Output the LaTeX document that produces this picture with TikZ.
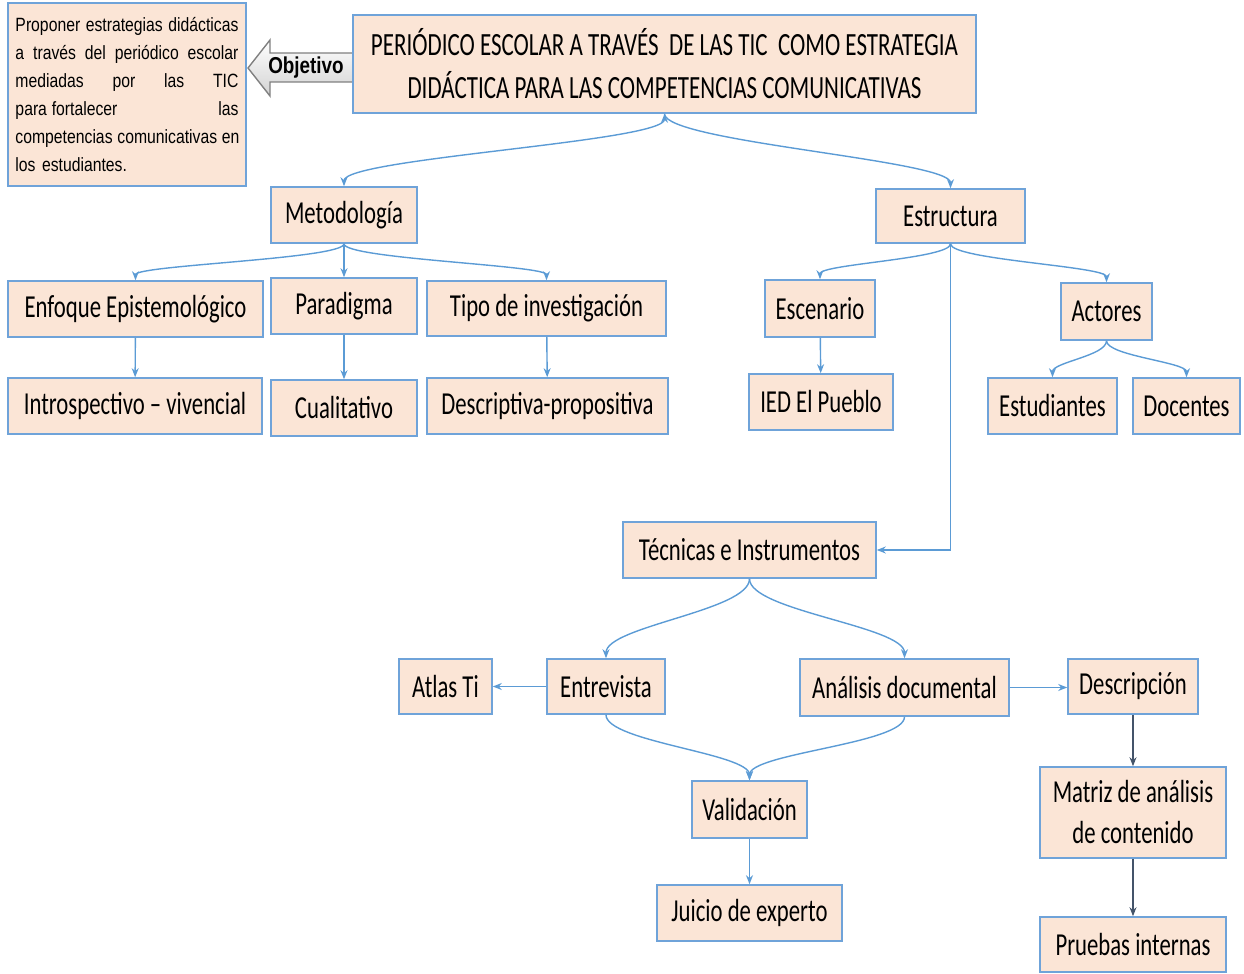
\documentclass[tikz,border=0pt]{standalone}
\usepackage{fontspec}
\usetikzlibrary{arrows.meta, calc}
\newfontfamily\boxfont{Carlito}[FakeStretch=0.71]
\newfontfamily\objfont{Liberation Sans}[FakeStretch=0.82]
\definecolor{peach}{HTML}{FBE5D6}
\definecolor{borde}{HTML}{6FA3D9}
\definecolor{linea}{HTML}{5B9BD5}
\definecolor{oscuro}{HTML}{44546A}
% una linea justificada del objetivo
\newcommand{\jline}[1]{\makebox[111.5pt][s]{\spaceskip=0.25em plus 1fil\relax #1}}

\begin{document}
\begin{tikzpicture}[x=0.5pt, y=-0.5pt,
    caja/.style={draw=borde, line width=0.8pt, fill=peach, inner sep=2pt,
        font=\boxfont\fontsize{16}{20.5}\selectfont, align=center},
    enlace/.style={draw=linea, line width=0.7pt, ->},
    oscura/.style={draw=oscuro, line width=0.7pt, ->},
    >={Stealth[length=4.5pt,width=3.5pt]}]
    \useasboundingbox (0,0) rectangle (1244,974);

    % Objetivo
    \node[caja, minimum width=119pt, minimum height=91.5pt, text width=111.5pt, align=left,
        font=\objfont\fontsize{9.6}{14}\selectfont] (obj) at (127,94.5)
        {\jline{Proponer estrategias didácticas}\\\jline{a través del periódico escolar}\\\jline{mediadas por las TIC}\\\jline{para\hspace{0.25em}fortalecer las}\\\jline{competencias comunicativas en}\\los estudiantes.};
    \draw[draw=black!50, line width=0.7pt, top color=white, bottom color=gray!35]
        (248,68) -- (270,40) -- (270,53) -- (354,53) -- (354,82) -- (270,82) -- (270,96) -- cycle;
    \node[font=\objfont\bfseries\fontsize{11.5}{13}\selectfont] (objlbl) at (306,68) {Objetivo};

    % Titulo
    \node[caja, minimum width=311.5pt, minimum height=49pt, font=\boxfont\fontsize{16.2}{21.5}\selectfont] (tit) at (664.5,64)
        {PERIÓDICO ESCOLAR A TRAVÉS\ \ DE LAS TIC\ \ COMO ESTRATEGIA\\DIDÁCTICA PARA LAS COMPETENCIAS COMUNICATIVAS};

    % Metodologia
    \node[caja, minimum width=73pt, minimum height=28pt] (met) at (344,215) {Metodología};
    \node[caja, minimum width=127.5pt, minimum height=28pt] (enf) at (135.5,309) {Enfoque Epistemológico};
    \node[caja, minimum width=73pt, minimum height=28pt] (par) at (344,306) {Paradigma};
    \node[caja, minimum width=119.5pt, minimum height=27.5pt] (tipo) at (546.5,308.5) {Tipo de investigación};
    \node[caja, minimum width=127pt, minimum height=28pt] (intro) at (135,406) {Introspectivo – vivencial};
    \node[caja, minimum width=73pt, minimum height=28pt] (cual) at (344,408) {Cualitativo};
    \node[caja, minimum width=120.5pt, minimum height=28pt] (descp) at (547.5,406) {Descriptiva-propositiva};

    % Estructura
    \node[caja, minimum width=74.5pt, minimum height=27pt] (est) at (950.5,216) {Estructura};
    \node[caja, minimum width=55pt, minimum height=28.5pt] (esc) at (820,308.5) {Escenario};
    \node[caja, minimum width=72pt, minimum height=28pt] (ied) at (821,402) {IED El Pueblo};
    \node[caja, minimum width=45.5pt, minimum height=28.5pt] (act) at (1106.5,311.5) {Actores};
    \node[caja, minimum width=64.5pt, minimum height=28pt] (estud) at (1052.5,406) {Estudiantes};
    \node[caja, minimum width=53.5pt, minimum height=28pt] (doc) at (1186.5,406) {Docentes};

    % Tecnicas
    \node[caja, minimum width=126.5pt, minimum height=28pt] (tec) at (749.5,550) {Técnicas e Instrumentos};
    \node[caja, minimum width=46.5pt, minimum height=27.5pt] (atlas) at (445.5,686.5) {Atlas Ti};
    \node[caja, minimum width=59pt, minimum height=27.5pt] (entr) at (606,686.5) {Entrevista};
    \node[caja, minimum width=104.5pt, minimum height=28.5pt] (anal) at (904.5,687.5) {Análisis documental};
    \node[caja, minimum width=65pt, minimum height=27.5pt] (descr) at (1133,686.5) {Descripción};
    \node[caja, minimum width=57.5pt, minimum height=28.5pt] (val) at (749.5,809.5) {Validación};
    \node[caja, minimum width=92.5pt, minimum height=28pt] (jui) at (749.5,913) {Juicio de experto};
    \node[caja, minimum width=93pt, minimum height=45.5pt] (mat) at (1133,812.5) {Matriz de análisis\\de contenido};
    \node[caja, minimum width=93pt, minimum height=27.5pt] (prue) at (1133,944.5) {Pruebas internas};

    % Conectores
    \draw[enlace, <->] (tit.south) .. controls +(0,28) and +(0,-28) .. (met.north);
    \draw[enlace] (tit.south) .. controls +(0,28) and +(0,-28) .. (est.north);
    \draw[enlace] (met.south) .. controls +(0,15) and +(0,-15) .. (enf.north);
    \draw[enlace] (met.south) -- (par.north);
    \draw[enlace] (met.south) .. controls +(0,15) and +(0,-15) .. (tipo.north);
    \draw[enlace] (enf) -- (intro);
    \draw[enlace] (par) -- (cual);
    \draw[enlace] (tipo) -- (descp);
    \draw[enlace] (est.south) .. controls +(0,15) and +(0,-15) .. (esc.north);
    \draw[enlace] (est.south) .. controls +(0,16) and +(0,-16) .. (act.north);
    \draw[enlace] (est.south) |- (tec.east);
    \draw[enlace] (esc) -- (ied);
    \draw[enlace] (act.south) .. controls +(0,15) and +(0,-15) .. (estud.north);
    \draw[enlace] (act.south) .. controls +(0,15) and +(0,-15) .. (doc.north);
    \draw[enlace] (tec.south) .. controls +(0,32) and +(0,-32) .. (entr.north);
    \draw[enlace] (tec.south) .. controls +(0,32) and +(0,-32) .. (anal.north);
    \draw[enlace] (entr.west) -- (atlas.east);
    \draw[enlace] (anal.east) -- (anal.east -| descr.west);
    \draw[enlace] (entr.south) .. controls +(0,27) and +(0,-27) .. (val.north);
    \draw[enlace] (anal.south) .. controls +(0,27) and +(0,-27) .. (val.north);
    \draw[enlace] (val) -- (jui);
    \draw[oscura] (descr) -- (mat);
    \draw[oscura] (mat) -- (prue);
\end{tikzpicture}
\end{document}
